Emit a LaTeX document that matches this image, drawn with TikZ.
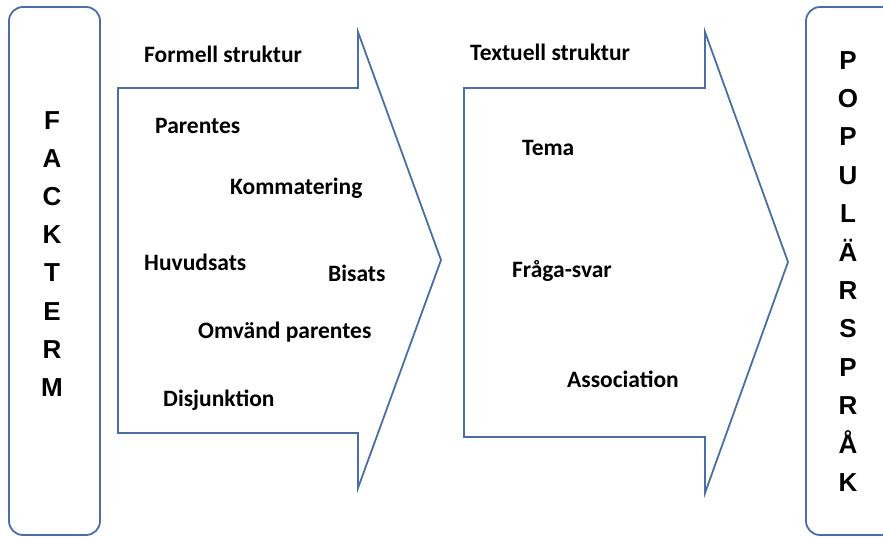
\documentclass[tikz,border=0pt]{standalone}
\usepackage{fontspec}
\setmainfont{Carlito}
\newfontfamily\lettersfont{Liberation Sans}
\definecolor{shapeblue}{RGB}{74,110,165}

\tikzset{
  outline/.style={draw=shapeblue, line width=1.8pt},
  sidebox/.style={outline, rounded corners=14pt},
  vletter/.style={font=\lettersfont\bfseries\fontsize{26}{26}\selectfont, anchor=base, inner sep=0pt},
  wordlabel/.style={font=\bfseries\fontsize{23.5}{23.5}\selectfont, anchor=west, inner sep=0pt}
}

\begin{document}
\begin{tikzpicture}[x=1pt, y=-1pt]
  \useasboundingbox (0,0) rectangle (883,536);
  \clip (0,0) rectangle (883,536);
  % side boxes
  \draw[sidebox] (9,7) rectangle (100,535);
  \draw[sidebox] (806,7) rectangle (930,535);
  % arrows
  \draw[outline] (118,88) -- (358,88) -- (358,32) -- (441,260) -- (358,488) -- (358,433) -- (118,433) -- cycle;
  \draw[outline] (464,88) -- (705,88) -- (705,32) -- (788,262) -- (705,493) -- (705,437) -- (464,437) -- cycle;
  % vertical words
  \foreach \l [count=\i] in {F,A,C,K,T,E,R,M}
    \node[vletter] (fackterm\i) at (52, 129+38.2*\i-38.2) {\l};
  \foreach \l [count=\i] in {P,O,P,U,L,Ä,R,S,P,R,Å,K}
    \node[vletter] (popular\i) at (848, 69+38.4*\i-38.4) {\l};
  % first arrow
  \node[wordlabel] (formell) at (144,54) {Formell struktur};
  \node[wordlabel] (parentes) at (155,126) {Parentes};
  \node[wordlabel] (kommatering) at (230,188) {Kommatering};
  \node[wordlabel] (huvudsats) at (144,262) {Huvudsats};
  \node[wordlabel] (bisats) at (328,273) {Bisats};
  \node[wordlabel] (omvand) at (198,332) {Omvänd parentes};
  \node[wordlabel] (disjunktion) at (163,400) {Disjunktion};
  % second arrow
  \node[wordlabel] (textuell) at (470,52) {Textuell struktur};
  \node[wordlabel] (tema) at (522,148) {Tema};
  \node[wordlabel] (fragasvar) at (512,271) {Fråga-svar};
  \node[wordlabel] (association) at (567,379) {Association};
\end{tikzpicture}
\end{document}
